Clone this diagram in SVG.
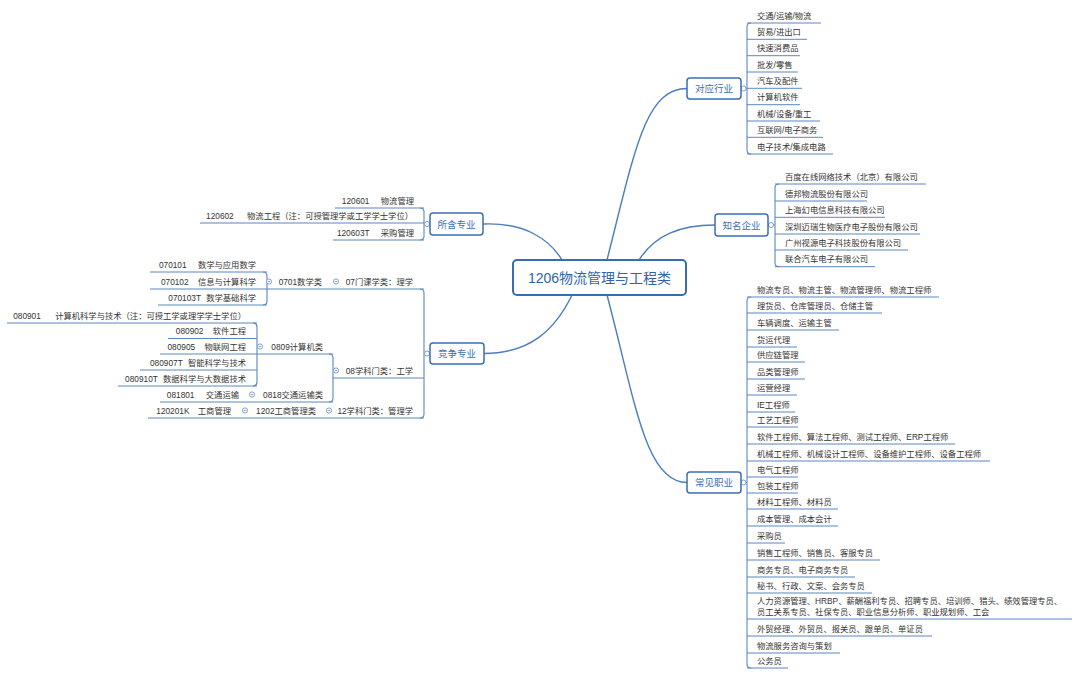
<svg xmlns="http://www.w3.org/2000/svg" xmlns:xlink="http://www.w3.org/1999/xlink" width="1080" height="676" viewBox="0 0 1080 676">
<style>
.u{fill:none;stroke:#5b87c2;stroke-width:1}
.k{fill:none;stroke:#5b87c2;stroke-width:1.1}
.c{fill:none;stroke:#4a7cc0;stroke-width:1.4}
text{font-family:"Liberation Sans","Noto Sans CJK SC",sans-serif}
.t{font-size:8.3px;fill:#333}
.e{text-anchor:end}
.bt{font-size:9.5px;fill:#3d6eb4;text-anchor:middle}
.ct{font-size:14px;fill:#2f64a8;text-anchor:middle}
.box{fill:#fff;stroke:#3d6eb0;stroke-width:1.5}
.cbox{fill:#fff;stroke:#3a6db0;stroke-width:2}
.dot{fill:#fff;stroke:#6d95c9;stroke-width:0.9}
</style>
<defs>
<g id="col"><circle r="2.6" class="dot"/><path d="M-1.3,0H1.3" stroke="#6d95c9" stroke-width="0.8"/></g>
<circle id="dt" r="2.5" class="dot"/>
</defs>
<rect width="1080" height="676" fill="#fff"/>

<g id="connectors">
<path class="c" d="M607,260 C635,150 645,88.5 687,88.5"/>
<path class="c" d="M639,260 C655,235 680,225 715,225"/>
<path class="c" d="M607,295 C635,400 645,482.5 687,482.5"/>
<path class="c" d="M483,224 C525,222 550,240 562,260"/>
<path class="c" d="M572,295 C555,330 530,353.5 484,353.5"/>
<path class="k" d="M751,23 Q747,23 747,27 V150 Q747,154 751,154 M741,88.5 H747"/>
<path class="k" d="M779,184 Q775,184 775,188 V262.7 Q775,266.7 779,266.7 M768,225 H775"/>
<path class="k" d="M751,297 Q747,297 747,301 V664 Q747,668 751,668 M741,482.5 H747"/>
<path class="k" d="M420,208 Q424,208 424,212 V236 Q424,240 420,240 M424,224 H430"/>
<path class="k" d="M420,289 Q424,289 424,293 V414 Q424,418 420,418 M424,353.5 H430"/>
<path class="k" d="M263,272 Q267,272 267,276 V301 Q267,305 263,305"/>
<path class="k" d="M329,354 Q333,354 333,358 V398 Q333,402 329,402"/>
<path class="k" d="M253,323 Q257,323 257,327 V382 Q257,386 253,386"/>
<use href="#dt" x="743.5" y="88.5"/>
<use href="#dt" x="771" y="225"/>
<use href="#dt" x="743.5" y="482.5"/>
<use href="#dt" x="427" y="224"/>
<use href="#dt" x="427" y="353.5"/>
</g>

<g id="n-center"><rect class="cbox" x="513" y="260" width="173" height="35" rx="4"/><text class="ct" x="599.5" y="282.5">1206物流管理与工程类</text></g>

<g id="n-hangye"><rect class="box" x="687" y="78" width="54" height="21" rx="3"/><text class="bt" x="714" y="92">对应行业</text></g>
<g id="n-qiye"><rect class="box" x="715" y="214" width="53" height="22" rx="3"/><text class="bt" x="741.5" y="228.5">知名企业</text></g>
<g id="n-zhiye"><rect class="box" x="687" y="472" width="54" height="21" rx="3"/><text class="bt" x="714" y="486">常见职业</text></g>
<g id="n-suohan"><rect class="box" x="430" y="213" width="53" height="22" rx="3"/><text class="bt" x="456.5" y="227.5">所含专业</text></g>
<g id="n-jingzheng"><rect class="box" x="430" y="343" width="54" height="21" rx="3"/><text class="bt" x="457" y="357">竞争专业</text></g>

<g id="n-hy1"><path class="u" d="M747,23H821"/><text class="t" x="757" y="18.5">交通/运输/物流</text></g>
<g id="n-hy2"><path class="u" d="M747,39.3H807"/><text class="t" x="757" y="34.8">贸易/进出口</text></g>
<g id="n-hy3"><path class="u" d="M747,55.7H800"/><text class="t" x="757" y="51.2">快速消费品</text></g>
<g id="n-hy4"><path class="u" d="M747,72H798"/><text class="t" x="757" y="67.5">批发/零售</text></g>
<g id="n-hy5"><path class="u" d="M747,88.3H802"/><text class="t" x="757" y="83.8">汽车及配件</text></g>
<g id="n-hy6"><path class="u" d="M747,104.7H800"/><text class="t" x="757" y="100.2">计算机软件</text></g>
<g id="n-hy7"><path class="u" d="M747,121H820"/><text class="t" x="757" y="116.5">机械/设备/重工</text></g>
<g id="n-hy8"><path class="u" d="M747,137.3H823"/><text class="t" x="757" y="132.8">互联网/电子商务</text></g>
<g id="n-hy9"><path class="u" d="M747,154H833"/><text class="t" x="757" y="149.5">电子技术/集成电路</text></g>

<g id="n-qy1"><path class="u" d="M775,184H926"/><text class="t" x="785" y="179.5">百度在线网络技术（北京）有限公司</text></g>
<g id="n-qy2"><path class="u" d="M775,201H867"/><text class="t" x="785" y="196.5">德邦物流股份有限公司</text></g>
<g id="n-qy3"><path class="u" d="M775,217.3H885"/><text class="t" x="785" y="212.8">上海幻电信息科技有限公司</text></g>
<g id="n-qy4"><path class="u" d="M775,234H920"/><text class="t" x="785" y="229.5">深圳迈瑞生物医疗电子股份有限公司</text></g>
<g id="n-qy5"><path class="u" d="M775,250H908"/><text class="t" x="785" y="245.5">广州视源电子科技股份有限公司</text></g>
<g id="n-qy6"><path class="u" d="M775,266.7H875"/><text class="t" x="785" y="262.2">联合汽车电子有限公司</text></g>

<g id="n-zy1"><path class="u" d="M747,297H939"/><text class="t" x="757" y="292.5">物流专员、物流主管、物流管理师、物流工程师</text></g>
<g id="n-zy2"><path class="u" d="M747,313H882"/><text class="t" x="757" y="308.5">理货员、仓库管理员、仓储主管</text></g>
<g id="n-zy3"><path class="u" d="M747,330H839"/><text class="t" x="757" y="325.5">车辆调度、运输主管</text></g>
<g id="n-zy4"><path class="u" d="M747,347H797"/><text class="t" x="757" y="342.5">货运代理</text></g>
<g id="n-zy5"><path class="u" d="M747,362H805"/><text class="t" x="757" y="357.5">供应链管理</text></g>
<g id="n-zy6"><path class="u" d="M747,379H805"/><text class="t" x="757" y="374.5">品类管理师</text></g>
<g id="n-zy7"><path class="u" d="M747,395H797"/><text class="t" x="757" y="390.5">运营经理</text></g>
<g id="n-zy8"><path class="u" d="M747,412H795"/><text class="t" x="757" y="407.5">IE工程师</text></g>
<g id="n-zy9"><path class="u" d="M747,427H798"/><text class="t" x="757" y="422.5">工艺工程师</text></g>
<g id="n-zy10"><path class="u" d="M747,444H955"/><text class="t" x="757" y="439.5">软件工程师、算法工程师、测试工程师、ERP工程师</text></g>
<g id="n-zy11"><path class="u" d="M747,461H990"/><text class="t" x="757" y="456.5">机械工程师、机械设计工程师、设备维护工程师、设备工程师</text></g>
<g id="n-zy12"><path class="u" d="M747,477H798"/><text class="t" x="757" y="472.5">电气工程师</text></g>
<g id="n-zy13"><path class="u" d="M747,493H798"/><text class="t" x="757" y="488.5">包装工程师</text></g>
<g id="n-zy14"><path class="u" d="M747,509H838"/><text class="t" x="757" y="504.5">材料工程师、材料员</text></g>
<g id="n-zy15"><path class="u" d="M747,526H838"/><text class="t" x="757" y="521.5">成本管理、成本会计</text></g>
<g id="n-zy16"><path class="u" d="M747,543H785"/><text class="t" x="757" y="538.5">采购员</text></g>
<g id="n-zy17"><path class="u" d="M747,560H880"/><text class="t" x="757" y="555.5">销售工程师、销售员、客服专员</text></g>
<g id="n-zy18"><path class="u" d="M747,577H855"/><text class="t" x="757" y="572.5">商务专员、电子商务专员</text></g>
<g id="n-zy19"><path class="u" d="M747,593H872"/><text class="t" x="757" y="588.5">秘书、行政、文案、会务专员</text></g>
<g id="n-zy20"><path class="u" d="M747,619H1072"/><text class="t" x="757" y="603.5">人力资源管理、HRBP、薪酬福利专员、招聘专员、培训师、猎头、绩效管理专员、</text><text class="t" x="757" y="614.5">员工关系专员、社保专员、职业信息分析师、职业规划师、工会</text></g>
<g id="n-zy21"><path class="u" d="M747,636H932"/><text class="t" x="757" y="631.5">外贸经理、外贸员、报关员、跟单员、单证员</text></g>
<g id="n-zy22"><path class="u" d="M747,653H840"/><text class="t" x="757" y="648.5">物流服务咨询与策划</text></g>
<g id="n-zy23"><path class="u" d="M747,668H788"/><text class="t" x="757" y="663.5">公务员</text></g>

<g id="n-sh1"><path class="u" d="M335,208H424"/><text class="t e" x="414" y="203.5">120601 <tspan dx="9">物流管理</tspan></text></g>
<g id="n-sh2"><path class="u" d="M200,223H424"/><text class="t e" x="413" y="218.5">120602 <tspan dx="11">物流工程（注：可授管理学或工学学士学位）</tspan></text></g>
<g id="n-sh3"><path class="u" d="M333,240H424"/><text class="t e" x="414" y="235.5">120603T <tspan dx="9">采购管理</tspan></text></g>

<g id="n-07"><path class="u" d="M336,289H424"/><text class="t e" x="413" y="284.5">07门课学类：理学</text><use href="#col" x="336" y="281.5"/></g>
<g id="n-0701"><path class="u" d="M267,289H336"/><text class="t e" x="322" y="284.5">0701数学类</text><use href="#col" x="269" y="281.5"/></g>
<g id="n-070101"><path class="u" d="M150,272H267"/><text class="t e" x="256" y="267.5">070101 <tspan dx="9">数学与应用数学</tspan></text></g>
<g id="n-070102"><path class="u" d="M150,289H267"/><text class="t e" x="256" y="284.5">070102 <tspan dx="7">信息与计算科学</tspan></text></g>
<g id="n-070103T"><path class="u" d="M158,305H267"/><text class="t e" x="256" y="300.5">070103T <tspan dx="3">数学基础科学</tspan></text></g>

<g id="n-08"><path class="u" d="M333,378H424"/><text class="t e" x="413" y="373.5">08学科门类：工学</text><use href="#col" x="336" y="370.5"/></g>
<g id="n-0809"><path class="u" d="M257,354H333"/><text class="t e" x="323" y="349.5">0809计算机类</text><use href="#col" x="260" y="346.5"/></g>
<g id="n-080901"><path class="u" d="M7,323H257"/><text class="t e" x="246" y="318.5">080901 <tspan dx="12">计算机科学与技术（注：可授工学或理学学士学位）</tspan></text></g>
<g id="n-080902"><path class="u" d="M168,338.5H257"/><text class="t e" x="246" y="334">080902 <tspan dx="7">软件工程</tspan></text></g>
<g id="n-080905"><path class="u" d="M160,354H257"/><text class="t e" x="246" y="349.5">080905 <tspan dx="7">物联网工程</tspan></text></g>
<g id="n-080907T"><path class="u" d="M140,370H257"/><text class="t e" x="246" y="365.5">080907T <tspan dx="3">智能科学与技术</tspan></text></g>
<g id="n-080910T"><path class="u" d="M118,386H257"/><text class="t e" x="246" y="381.5">080910T <tspan dx="3">数据科学与大数据技术</tspan></text></g>
<g id="n-0818"><path class="u" d="M252,402H333"/><text class="t e" x="323" y="397.5">0818交通运输类</text><use href="#col" x="252" y="394.5"/></g>
<g id="n-081801"><path class="u" d="M160,402H252"/><text class="t e" x="239" y="397.5">081801 <tspan dx="9">交通运输</tspan></text></g>

<g id="n-12"><path class="u" d="M329,418H424"/><text class="t e" x="413" y="413.5">12学科门类：管理学</text><use href="#col" x="329" y="410.5"/></g>
<g id="n-1202"><path class="u" d="M245,418H329"/><text class="t e" x="316" y="413.5">1202工商管理类</text><use href="#col" x="245" y="410.5"/></g>
<g id="n-120201K"><path class="u" d="M148,418H245"/><text class="t e" x="231" y="413.5">120201K <tspan dx="6">工商管理</tspan></text></g>
</svg>
